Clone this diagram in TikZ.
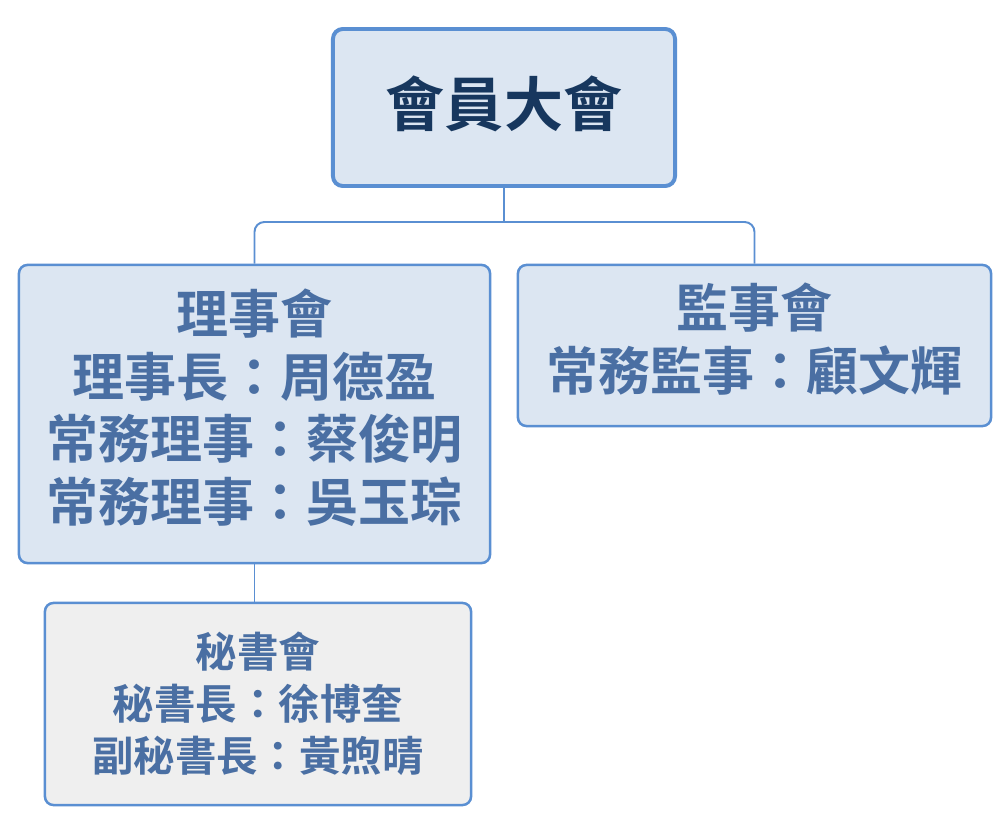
\documentclass[tikz,border=0pt]{standalone}
\usepackage{fontspec}
\setmainfont{Noto Sans CJK TC}[BoldFont={Noto Sans CJK TC Bold}]
\usetikzlibrary{positioning, calc}

\definecolor{frameblue}{HTML}{5A8FD2}
\definecolor{paleblue}{HTML}{DCE6F2}
\definecolor{palegray}{HTML}{EFEFEF}
\definecolor{navytext}{HTML}{17375E}
\definecolor{steeltext}{HTML}{4A6FA3}

\begin{document}
\begin{tikzpicture}[
    x=0.025cm, y=-0.025cm,
    every node/.style={font=\bfseries},
    orgbox/.style={rectangle, draw=frameblue, line width=1.8pt, fill=paleblue, align=center, rounded corners=6pt, inner sep=0pt, text=steeltext},
    topbox/.style={orgbox, line width=2.8pt, rounded corners=7pt, text=navytext, font=\bfseries\fontsize{42}{49}\selectfont},
    midbox/.style={orgbox, font=\bfseries\fontsize{37}{44.5}\selectfont},
    lowbox/.style={orgbox, fill=palegray, font=\bfseries\fontsize{29.5}{37}\selectfont},
    link/.style={draw=frameblue, line width=1.4pt, rounded corners=7pt}
]
\useasboundingbox (0,0) rectangle (1008,814);

% ============ GENERAL ASSEMBLY ============
\node[topbox, minimum width=8.55cm, minimum height=3.925cm, text depth=0.3cm] (assembly) at (504,107.5) {會員大會};

% ============ BOARDS ============
\node[midbox, minimum width=11.775cm, minimum height=7.45cm, text depth=0.45cm] (directors) at (254.5,414)
    {理事會\\理事長：周德盈\\常務理事：蔡俊明\\常務理事：吳玉琮};
\node[midbox, minimum width=11.825cm, minimum height=4.025cm, text depth=0.45cm] (supervisors) at (754.5,345.5)
    {監事會\\常務監事：顧文輝};

% ============ SECRETARIAT ============
\node[lowbox, minimum width=10.65cm, minimum height=5.05cm] (secretariat) at (258,704)
    {秘書會\\秘書長：徐博奎\\副秘書長：黃煦晴};

% Links
\coordinate (fork) at (504,222);
\draw[link] (assembly.south) -- (fork);
\draw[link] (fork) -| (directors.north);
\draw[link] (fork) -| (supervisors.north);
\draw[link] (directors.south) -- (directors.south |- secretariat.north);

\end{tikzpicture}
\end{document}
